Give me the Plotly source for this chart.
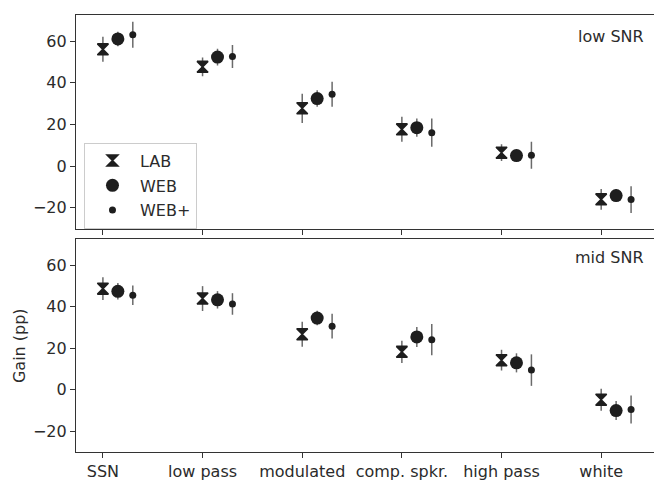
import plotly.graph_objects as go

categories = ["SSN", "low pass", "modulated", "comp. spkr.", "high pass", "white"]

# low SNR panel
low_lab = [56.0, 47.6, 27.7, 17.6, 6.4, -16.0]
low_lab_err = [6.0, 4.5, 7.0, 6.0, 4.0, 5.0]
low_web = [61.0, 52.3, 32.4, 18.4, 5.0, -14.2]
low_web_err = [3.5, 4.0, 4.0, 4.4, 2.5, 3.0]
low_webp = [63.0, 52.6, 34.5, 16.0, 5.2, -16.1]
low_webp_err = [6.2, 5.5, 6.0, 6.8, 6.5, 6.4]

# mid SNR panel
mid_lab = [48.8, 44.0, 26.8, 18.3, 14.3, -4.8]
mid_lab_err = [5.5, 6.0, 6.0, 5.4, 5.0, 5.3]
mid_web = [47.5, 43.4, 34.6, 25.5, 13.0, -10.0]
mid_web_err = [4.0, 4.2, 3.5, 4.8, 4.6, 4.6]
mid_webp = [45.6, 41.4, 30.7, 24.2, 9.5, -9.5]
mid_webp_err = [4.7, 5.2, 6.0, 7.5, 7.6, 6.7]

series_names = ["LAB", "WEB", "WEB+"]
offsets = [0.0, 0.15, 0.30]
symbols = ["hourglass", "circle", "circle"]
sizes = [11, 13, 7]
line_w = [1.5, 0, 0]

FONT = "DejaVu Sans"
FS = 16
TXT = "#2b2b2b"
MK = "#1e1e1e"
ERR = "#6a6a6a"

fig = go.Figure()

panels = [
    ("y", "x", [(low_lab, low_lab_err), (low_web, low_web_err), (low_webp, low_webp_err)], True),
    ("y2", "x2", [(mid_lab, mid_lab_err), (mid_web, mid_web_err), (mid_webp, mid_webp_err)], False),
]

for yax, xax, data, show_leg in panels:
    for k, (vals, errs) in enumerate(data):
        xs = [i + offsets[k] for i in range(len(categories))]
        fig.add_trace(go.Scatter(
            x=xs, y=vals, mode="markers", name=series_names[k],
            xaxis=xax, yaxis=yax, showlegend=show_leg,
            legendgroup=series_names[k],
            marker=dict(symbol=symbols[k], size=sizes[k], color=MK,
                        line=dict(width=line_w[k], color=MK)),
            error_y=dict(type="data", array=errs, visible=True,
                         color=ERR, thickness=1.5, width=0),
        ))

ax_common = dict(
    showline=True, linecolor="#333333", linewidth=1.2,
    ticks="outside", ticklen=5, tickwidth=1.2, tickcolor="#333333",
    showgrid=False, zeroline=False,
    tickfont=dict(family=FONT, size=FS, color=TXT),
)

fig.update_layout(
    width=654, height=481,
    margin=dict(l=76, r=0, t=15, b=29),
    paper_bgcolor="white", plot_bgcolor="white",
    font=dict(family=FONT, size=FS, color=TXT),
    xaxis=dict(**ax_common, domain=[0, 1], anchor="y", range=[-0.27, 5.53],
               tickvals=list(range(len(categories))), ticktext=categories,
               showticklabels=False, mirror=True),
    xaxis2=dict(**ax_common, domain=[0, 1], anchor="y2", range=[-0.27, 5.53],
                tickvals=list(range(len(categories))), ticktext=categories,
                mirror=True, matches="x"),
    yaxis=dict(**ax_common, domain=[0.5114, 1.0], anchor="x", range=[-30, 72.5],
               tickvals=[-20, 0, 20, 40, 60]),
    yaxis2=dict(**ax_common, domain=[0.0, 0.4863], anchor="x2", range=[-30, 72.5],
                tickvals=[-20, 0, 20, 40, 60],
                title=dict(text="Gain (pp)", standoff=3,
                           font=dict(family=FONT, size=FS, color=TXT))),
    legend=dict(x=0.0138, y=0.708, xanchor="left", yanchor="top",
                bgcolor="white", bordercolor="#cccccc", borderwidth=1,
                font=dict(family=FONT, size=FS, color=TXT),
                traceorder="grouped", tracegroupgap=1, itemwidth=45),
    annotations=[
        dict(text="low SNR", xref="paper", yref="y domain", x=0.986, y=0.90,
             xanchor="right", yanchor="middle", showarrow=False,
             font=dict(family=FONT, size=FS, color=TXT)),
        dict(text="mid SNR", xref="paper", yref="y2 domain", x=0.986, y=0.913,
             xanchor="right", yanchor="middle", showarrow=False,
             font=dict(family=FONT, size=FS, color=TXT)),
    ],
)

fig.write_html("out.html")
